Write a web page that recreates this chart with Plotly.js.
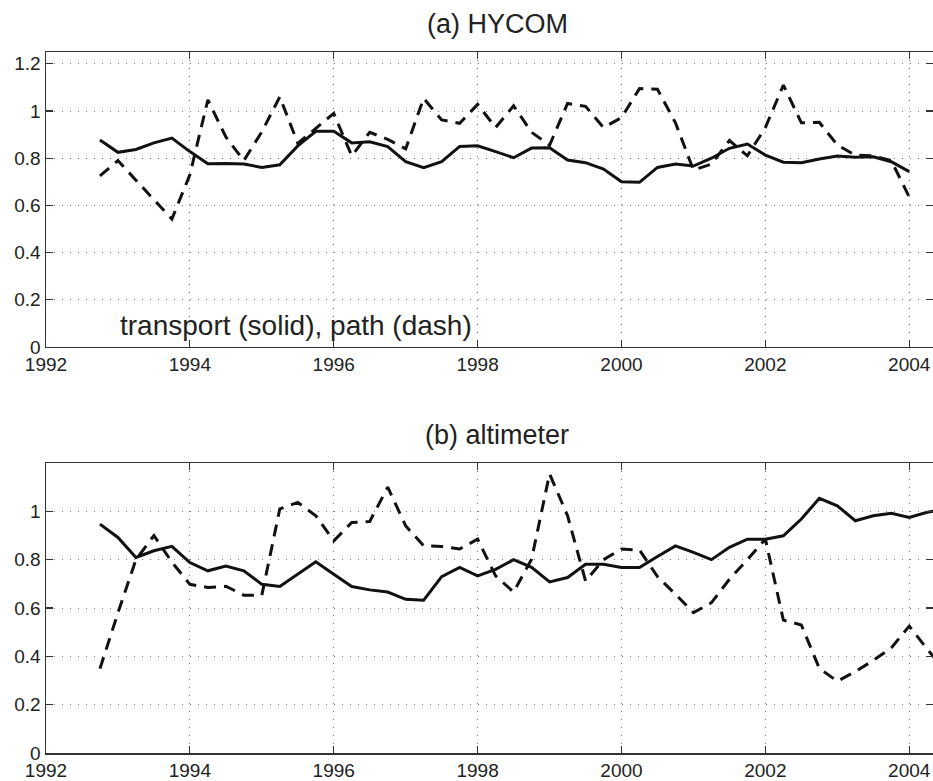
<!DOCTYPE html>
<html><head><meta charset="utf-8">
<script src="https://cdn.plot.ly/plotly-3.0.1.min.js"></script>
<style>html,body{margin:0;padding:0;background:#fff}#chart{width:933px;height:781px}</style>
</head><body><div id="chart"></div>
<script>
// quarterly sample times (decimal years)
const quarters = [1992.75,1993.0,1993.25,1993.5,1993.75,1994.0,1994.25,1994.5,1994.75,1995.0,1995.25,1995.5,1995.75,1996.0,1996.25,1996.5,1996.75,1997.0,1997.25,1997.5,1997.75,1998.0,1998.25,1998.5,1998.75,1999.0,1999.25,1999.5,1999.75,2000.0,2000.25,2000.5,2000.75,2001.0,2001.25,2001.5,2001.75,2002.0,2002.25,2002.5,2002.75,2003.0,2003.25,2003.5,2003.75,2004.0,2004.25,2004.5];

// (a) HYCOM
const hycomTransport = [0.877,0.825,0.837,0.865,0.885,0.828,0.777,0.778,0.775,0.761,0.772,0.852,0.914,0.914,0.865,0.87,0.849,0.785,0.76,0.785,0.85,0.853,0.828,0.802,0.843,0.844,0.792,0.781,0.754,0.70,0.698,0.761,0.775,0.767,0.80,0.842,0.86,0.813,0.783,0.781,0.797,0.809,0.804,0.806,0.785,0.743];
const hycomPath = [0.725,0.79,0.707,0.623,0.542,0.73,1.047,0.89,0.79,0.912,1.06,0.863,0.925,0.99,0.81,0.91,0.88,0.84,1.054,0.962,0.948,1.028,0.93,1.022,0.91,0.855,1.032,1.02,0.93,0.972,1.095,1.092,0.95,0.75,0.775,0.875,0.81,0.93,1.11,0.95,0.952,0.856,0.813,0.81,0.79,0.635];

// (b) altimeter
const altTransport = [0.947,0.892,0.809,0.837,0.855,0.788,0.754,0.774,0.754,0.698,0.689,0.74,0.791,0.74,0.689,0.675,0.666,0.636,0.632,0.73,0.768,0.733,0.76,0.80,0.768,0.708,0.726,0.781,0.781,0.768,0.768,0.813,0.857,0.83,0.80,0.851,0.885,0.885,0.899,0.968,1.054,1.023,0.961,0.982,0.992,0.975,0.996,1.01];
const altPath = [0.349,0.58,0.80,0.90,0.79,0.698,0.685,0.69,0.653,0.653,1.01,1.037,0.982,0.878,0.954,0.958,1.10,0.94,0.857,0.855,0.844,0.885,0.733,0.666,0.802,1.155,0.982,0.712,0.80,0.844,0.84,0.73,0.657,0.581,0.622,0.719,0.80,0.885,0.55,0.53,0.35,0.297,0.337,0.383,0.435,0.525,0.43,0.34];

const xTicks = [1992,1994,1996,1998,2000,2002,2004];
const xTickText = ['1992','1994','1996','1998','2000','2002','2004'];
const yTicksTop = [0,0.2,0.4,0.6,0.8,1,1.2];
const yTickTextTop = ['0','0.2','0.4','0.6','0.8','1','1.2'];
const yTicksBottom = [0,0.2,0.4,0.6,0.8,1];
const yTickTextBottom = ['0','0.2','0.4','0.6','0.8','1'];
const panelTitles = ['(a) HYCOM','(b) altimeter'];
const noteText = 'transport (solid), path (dash)';

const FONT = '"Liberation Sans", Arial, Helvetica, sans-serif';
const INK = '#111';

function xAxis(anchor){
  return {range:[1992,2004.33], tickvals:xTicks, ticktext:xTickText, ticks:'inside', ticklen:7, tickwidth:1.2, tickcolor:'#333',
    showline:true, linecolor:'#333', linewidth:1.5, mirror:'allticks', showgrid:true, gridcolor:'#7a7a7a', griddash:'1px,7px', gridwidth:1,
    zeroline:false, tickfont:{family:FONT,size:19,color:'#222'}, anchor:anchor, fixedrange:true};
}
function yAxis(anchor, domain, range, tv, tt){
  return {domain:domain, range:range, tickvals:tv, ticktext:tt, ticks:'inside', ticklen:7, tickwidth:1.2, tickcolor:'#333',
    showline:true, linecolor:'#333', linewidth:1.5, mirror:'allticks', showgrid:true, gridcolor:'#7a7a7a', griddash:'1px,7px', gridwidth:1,
    zeroline:false, tickfont:{family:FONT,size:19,color:'#222'}, anchor:anchor, fixedrange:true};
}

const solid = {color:INK, width:3};
const dashed = {color:INK, width:3, dash:'12px,8px'};

const traces = [
  {x:quarters.slice(0,hycomPath.length), y:hycomPath, mode:'lines', line:dashed, xaxis:'x', yaxis:'y', hoverinfo:'skip'},
  {x:quarters.slice(0,hycomTransport.length), y:hycomTransport, mode:'lines', line:solid, xaxis:'x', yaxis:'y', hoverinfo:'skip'},
  {x:quarters.slice(0,altPath.length), y:altPath, mode:'lines', line:dashed, xaxis:'x2', yaxis:'y2', hoverinfo:'skip'},
  {x:quarters.slice(0,altTransport.length), y:altTransport, mode:'lines', line:solid, xaxis:'x2', yaxis:'y2', hoverinfo:'skip'}
];

const layout = {
  width:933, height:781, showlegend:false,
  paper_bgcolor:'#fff', plot_bgcolor:'#fff',
  margin:{l:46, r:0, t:0, b:28},
  xaxis: xAxis('y'),
  yaxis: yAxis('x', [0.5392,0.9309], [0,1.25], yTicksTop, yTickTextTop),
  xaxis2: xAxis('y2'),
  yaxis2: yAxis('x2', [0,0.3851], [0,1.2], yTicksBottom, yTickTextBottom),
  annotations:[
    {text:panelTitles[0], xref:'paper', yref:'paper', x:0.509, y:0.968, xanchor:'center', yanchor:'middle', showarrow:false, font:{family:FONT,size:27,color:'#222'}},
    {text:panelTitles[1], xref:'paper', yref:'paper', x:0.509, y:0.4223, xanchor:'center', yanchor:'middle', showarrow:false, font:{family:FONT,size:27,color:'#222'}},
    {text:noteText, xref:'x', yref:'y', x:1993.0, y:0.09, xanchor:'left', yanchor:'middle', showarrow:false, font:{family:FONT,size:28,color:'#222'}}
  ]
};

Plotly.newPlot('chart', traces, layout, {displayModeBar:false, staticPlot:true});
</script></body></html>
